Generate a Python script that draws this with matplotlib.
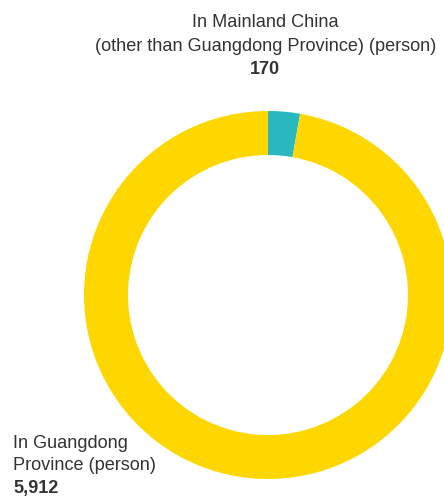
import matplotlib.pyplot as plt

# People counted by place of residence
labels = ["In Mainland China\n(other than Guangdong Province) (person)", "In Guangdong\nProvince (person)"]
values = [170, 5912]
colors = ["#29B8BE", "#FFD700"]

W, H = 444, 499

fig = plt.figure(figsize=(W / 100, H / 100), dpi=100)
ax = fig.add_axes([0, 0, 1, 1])

# Ring chart, drawn clockwise from 12 o'clock, in pixel units
ax.pie(values, colors=colors, startangle=90, counterclock=False,
       center=(268, H - 295), radius=184,
       wedgeprops=dict(width=44, linewidth=0))

ax.set_xlim(0, W)
ax.set_ylim(0, H)
ax.set_aspect("equal")
ax.axis("off")

font = "Liberation Sans"
text_color = "#333333"
fs = 13.1

# Label for the small slice, above the ring
ax.text(265, H - 22, labels[0].split("\n")[0], ha="center", va="center",
        fontsize=fs, family=font, color=text_color)
ax.text(266, H - 46, labels[0].split("\n")[1], ha="center", va="center",
        fontsize=fs, family=font, color=text_color)
ax.text(265, H - 69, f"{values[0]:,}", ha="center", va="center",
        fontsize=fs, family=font, color=text_color, fontweight="bold")

# Label for the large slice, bottom left
ax.text(13, H - 443, labels[1].split("\n")[0], ha="left", va="center",
        fontsize=fs, family=font, color=text_color)
ax.text(13, H - 466, labels[1].split("\n")[1], ha="left", va="center",
        fontsize=fs, family=font, color=text_color)
ax.text(13, H - 489, f"{values[1]:,}", ha="left", va="center",
        fontsize=fs, family=font, color=text_color, fontweight="bold")

fig.savefig("out.png", dpi=100)
